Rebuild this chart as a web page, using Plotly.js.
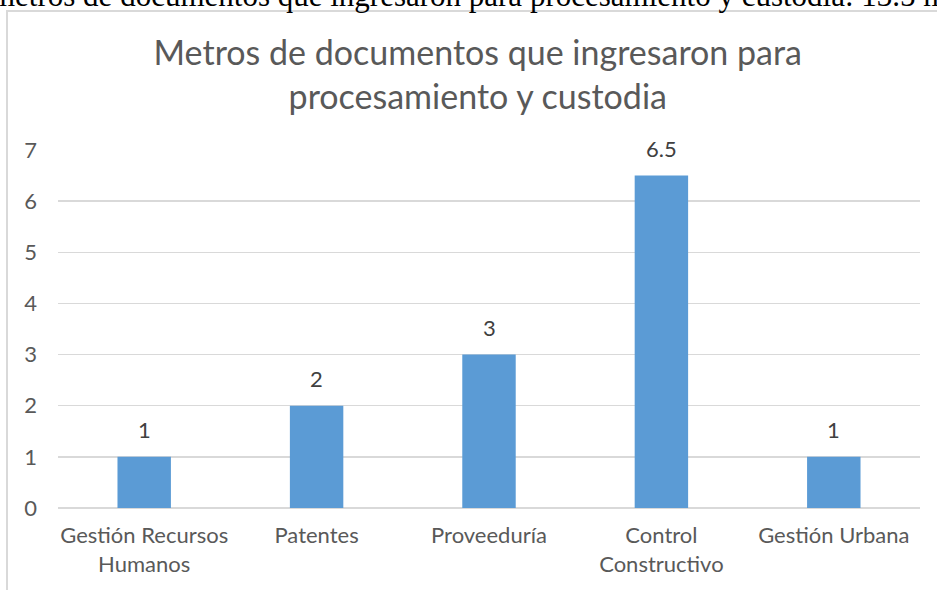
<!DOCTYPE html>
<html>
<head>
<meta charset="utf-8">
<script src="https://cdn.plot.ly/plotly-3.0.1.min.js"></script>
<style>
  html, body { margin: 0; padding: 0; background: #fff; overflow: hidden; }
  #wrap { position: relative; width: 937px; height: 590px; overflow: hidden; }
  #frame { position: absolute; left: 6px; top: 10px; width: 1200px; height: 1200px;
           border-left: 2px solid #d9d9d9; border-top: 2px solid #d9d9d9; box-sizing: border-box; }
  #doctext { position: absolute; left: -9px; top: -20px; font-family: "Liberation Serif", serif;
             font-size: 31px; line-height: 31px; color: #000; white-space: nowrap; }
  #chart { position: absolute; left: 0; top: 0; width: 937px; height: 590px; }
</style>
</head>
<body>
<div id="wrap">
  <div id="frame"></div>
  <div id="chart"></div>
  <div id="doctext">metros de documentos que ingresaron para procesamiento y custodia: 13.5 m</div>
</div>
<script>
const categories = ["Gestión Recursos<br>Humanos", "Patentes", "Proveeduría", "Control<br>Constructivo", "Gestión Urbana"];
const values = [1, 2, 3, 6.5, 1];
const valueLabels = ["1", "2", "3", "6.5", "1"];
const yTicks = [0, 1, 2, 3, 4, 5, 6, 7];
const chartTitle = "Metros de documentos que ingresaron para<br>procesamiento y custodia";

const FONT = "Lato, 'Open Sans', sans-serif";

const trace = {
  type: "bar",
  x: categories,
  y: values,
  marker: { color: "#5B9BD5", line: { width: 0 } },
  hoverinfo: "none"
};

const annotations = categories.map((c, i) => ({
  x: c, y: values[i], xref: "x", yref: "y",
  text: valueLabels[i], showarrow: false,
  yanchor: "bottom", yshift: 12,
  font: { family: FONT, size: 22, color: "#404040" }
}));

const layout = {
  width: 937, height: 590,
  paper_bgcolor: "rgba(0,0,0,0)",
  plot_bgcolor: "rgba(0,0,0,0)",
  margin: { l: 58, r: 17, t: 150, b: 82, pad: 0 },
  bargap: 0.69,
  showlegend: false,
  title: {
    text: chartTitle,
    font: { family: FONT, size: 34, color: "#595959" },
    xref: "paper", x: 0.487, xanchor: "center",
    yref: "container", y: 0.890, yanchor: "top"
  },
  xaxis: {
    type: "category",
    tickfont: { family: FONT, size: 22, color: "#595959" },
    showgrid: false, showline: false, zeroline: false,
    ticks: "", ticklabelstandoff: 12
  },
  yaxis: {
    range: [0, 7],
    tickvals: yTicks,
    ticktext: yTicks.map(String),
    tickfont: { family: FONT, size: 22, color: "#595959" },
    showgrid: true, gridcolor: "#d9d9d9", gridwidth: 1.5,
    zeroline: true, zerolinecolor: "#d9d9d9", zerolinewidth: 1.5,
    showline: false, ticks: "", ticklabelstandoff: 20
  },
  annotations: annotations
};

Plotly.newPlot("chart", [trace], layout, { displayModeBar: false, staticPlot: true });
</script>
</body>
</html>
